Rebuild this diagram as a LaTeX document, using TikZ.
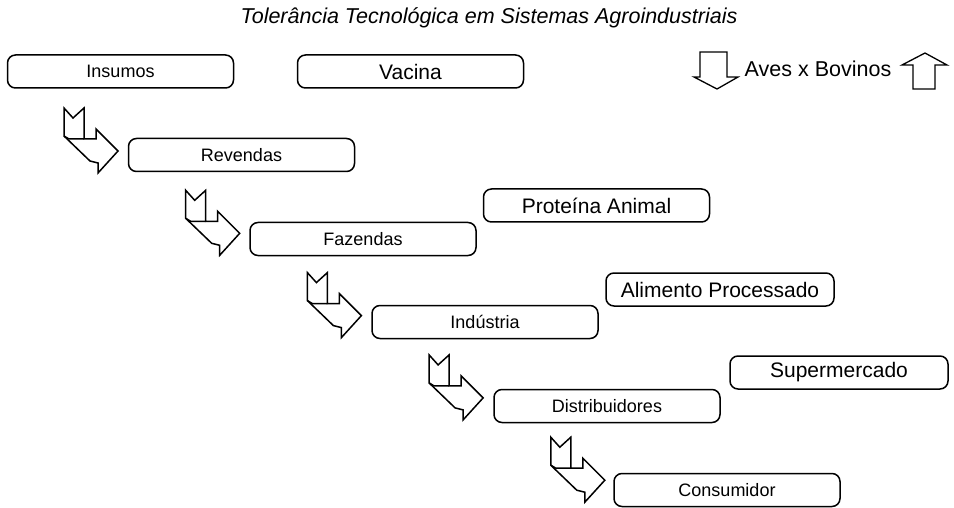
\documentclass[tikz,border=0pt]{standalone}
\usepackage{fontspec}
\setmainfont{Liberation Sans}
\begin{document}
\begin{tikzpicture}[x=1pt,y=-1pt,
  stagebox/.style={draw,line width=1.5pt,rounded corners=8pt,minimum width=226pt,minimum height=33pt,inner sep=0pt,font=\fontsize{18}{21}\selectfont},
  bigbox/.style={stagebox,font=\fontsize{21}{24}\selectfont},
  bentarrow/.pic={
    \draw[line width=1.5pt,line join=miter]
      (0,0) -- (9,10) -- (20,0) -- (20,31) -- (32,31) -- (32,21) -- (54,43)
      -- (34,65) -- (34,55) -- (26,53) -- (0,28) -- cycle;
    \draw[line width=1.5pt] (0,28) -- (5,31) -- (20,31);
  }]
\useasboundingbox (0,0) rectangle (954,508);
\node[font=\fontsize{21.5}{24}\selectfont\itshape] (title) at (489,18) {Tolerância Tecnológica em Sistemas Agroindustriais};

\node[stagebox] (ins) at (120.5,71.5) {Insumos};
\node[bigbox] (vac) at (410.5,71.5) {Vacina};
\node[stagebox] (rev) at (241.5,155) {Revendas};
\node[stagebox] (faz) at (363,239) {Fazendas};
\node[bigbox] (prot) at (596.5,205.5) {Proteína Animal};
\node[bigbox,minimum width=228pt] (alim) at (720,289.5) {Alimento Processado};
\node[stagebox] (ind) at (485,322) {Indústria};
\node[bigbox,minimum width=218pt] (sup) at (839,372.5) {Supermercado};
\node[stagebox] (dist) at (607,406) {Distribuidores};
\node[stagebox] (cons) at (727,490) {Consumidor};

\pic at (64,108) {bentarrow};
\pic at (185.7,190.3) {bentarrow};
\pic at (307.4,272.6) {bentarrow};
\pic at (429.1,354.9) {bentarrow};
\pic at (550.8,437.2) {bentarrow};

\draw[line width=1.3pt] (700,52) -- (727,52) -- (727,77) -- (738,77) -- (717,89) -- (694,77) -- (700,77) -- cycle;
\node[font=\fontsize{21.5}{24}\selectfont] (aves) at (818,69) {Aves x Bovinos};
\draw[line width=1.3pt] (925,53) -- (947,65) -- (935,65) -- (935,89) -- (913,89) -- (913,65) -- (902,65) -- cycle;
\end{tikzpicture}
\end{document}
